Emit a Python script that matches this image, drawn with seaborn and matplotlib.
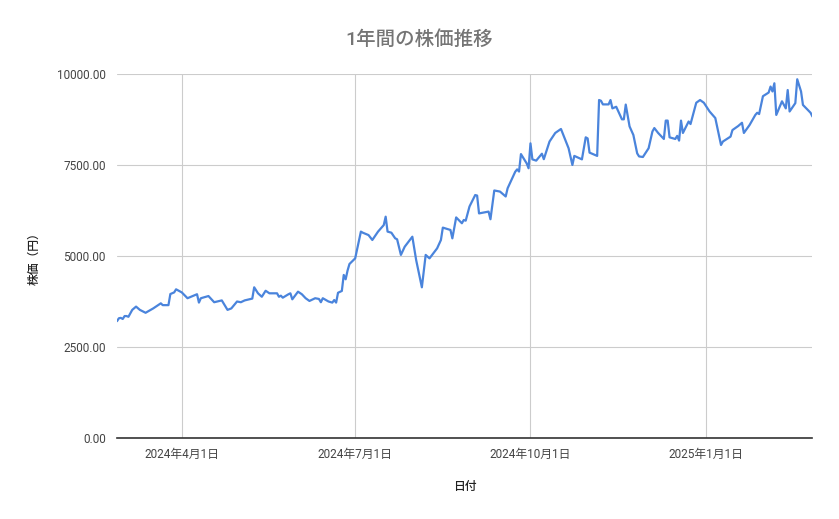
import matplotlib
matplotlib.use("Agg")
import matplotlib.pyplot as plt
import matplotlib.dates as mdates
from matplotlib.ticker import FuncFormatter, FixedLocator
import seaborn as sns
import pandas as pd

dates = [
    "2024-02-27", "2024-02-28", "2024-02-29", "2024-03-01", "2024-03-02", "2024-03-03",
    "2024-03-04", "2024-03-06", "2024-03-08", "2024-03-10", "2024-03-13", "2024-03-17",
    "2024-03-21", "2024-03-22", "2024-03-25", "2024-03-26", "2024-03-28", "2024-03-29",
    "2024-04-01", "2024-04-04", "2024-04-09", "2024-04-10", "2024-04-11", "2024-04-15",
    "2024-04-18", "2024-04-22", "2024-04-25", "2024-04-27", "2024-04-30", "2024-05-02",
    "2024-05-04", "2024-05-08", "2024-05-09", "2024-05-11", "2024-05-13", "2024-05-15",
    "2024-05-17", "2024-05-21", "2024-05-22", "2024-05-23", "2024-05-24", "2024-05-27",
    "2024-05-28", "2024-05-29", "2024-06-01", "2024-06-03", "2024-06-05", "2024-06-07",
    "2024-06-10", "2024-06-12", "2024-06-13", "2024-06-14", "2024-06-17", "2024-06-19",
    "2024-06-20", "2024-06-21", "2024-06-22", "2024-06-24", "2024-06-25", "2024-06-26",
    "2024-06-27", "2024-06-28", "2024-07-01", "2024-07-04", "2024-07-05", "2024-07-08",
    "2024-07-10", "2024-07-13", "2024-07-16", "2024-07-17", "2024-07-18", "2024-07-20",
    "2024-07-22", "2024-07-23", "2024-07-25", "2024-07-27", "2024-07-31", "2024-08-02",
    "2024-08-05", "2024-08-07", "2024-08-09", "2024-08-13", "2024-08-15", "2024-08-16",
    "2024-08-20", "2024-08-21", "2024-08-23", "2024-08-26", "2024-08-27", "2024-08-28",
    "2024-08-30", "2024-09-02", "2024-09-03", "2024-09-04", "2024-09-09", "2024-09-10",
    "2024-09-12", "2024-09-15", "2024-09-18", "2024-09-19", "2024-09-23", "2024-09-24",
    "2024-09-25", "2024-09-26", "2024-09-29", "2024-09-30", "2024-10-01", "2024-10-02",
    "2024-10-04", "2024-10-07", "2024-10-08", "2024-10-11", "2024-10-14", "2024-10-17",
    "2024-10-21", "2024-10-23", "2024-10-24", "2024-10-28", "2024-10-30", "2024-10-31",
    "2024-11-01", "2024-11-05", "2024-11-06", "2024-11-07", "2024-11-08", "2024-11-11",
    "2024-11-12", "2024-11-13", "2024-11-15", "2024-11-18", "2024-11-19", "2024-11-20",
    "2024-11-22", "2024-11-24", "2024-11-26", "2024-11-27", "2024-11-29", "2024-12-02",
    "2024-12-04", "2024-12-05", "2024-12-07", "2024-12-10", "2024-12-11", "2024-12-12",
    "2024-12-13", "2024-12-16", "2024-12-17", "2024-12-18", "2024-12-19", "2024-12-20",
    "2024-12-23", "2024-12-24", "2024-12-27", "2024-12-29", "2024-12-31", "2025-01-03",
    "2025-01-06", "2025-01-09", "2025-01-10", "2025-01-14", "2025-01-15", "2025-01-18",
    "2025-01-20", "2025-01-21", "2025-01-24", "2025-01-27", "2025-01-28", "2025-01-29",
    "2025-01-31", "2025-02-03", "2025-02-04", "2025-02-05", "2025-02-06", "2025-02-07",
    "2025-02-10", "2025-02-12", "2025-02-13", "2025-02-14", "2025-02-17", "2025-02-18",
    "2025-02-20", "2025-02-21", "2025-02-25", "2025-02-26",
]

prices = [
    3210, 3290, 3300, 3270, 3350, 3350,
    3330, 3520, 3610, 3520, 3440, 3560,
    3700, 3650, 3650, 3955, 4000, 4085,
    4000, 3840, 3950, 3720, 3840, 3900,
    3730, 3780, 3520, 3560, 3750, 3730,
    3780, 3830, 4140, 3975, 3880, 4045,
    3975, 3975, 3880, 3910, 3855, 3950,
    3975, 3810, 4020, 3950, 3840, 3765,
    3840, 3820, 3730, 3840, 3750, 3720,
    3790, 3720, 3990, 4040, 4480, 4360,
    4600, 4780, 4935, 5670, 5640, 5575,
    5440, 5670, 5850, 6080, 5670, 5640,
    5485, 5460, 5030, 5255, 5530, 4890,
    4140, 5030, 4935, 5210, 5440, 5780,
    5715, 5485, 6060, 5900, 5990, 5970,
    6360, 6675, 6660, 6170, 6220, 6010,
    6800, 6770, 6635, 6860, 7315, 7380,
    7320, 7800, 7545, 7410, 8095, 7655,
    7620, 7810, 7660, 8145, 8380, 8490,
    7960, 7500, 7750, 7655, 8260, 8230,
    7840, 7750, 9285, 9265, 9165, 9165,
    9285, 9055, 9100, 8755, 8755, 9160,
    8560, 8325, 7820, 7735, 7720, 7960,
    8420, 8515, 8380, 8215, 8720, 8720,
    8260, 8215, 8300, 8170, 8720, 8380,
    8695, 8625, 9210, 9285, 9210, 8970,
    8790, 8050, 8145, 8280, 8460, 8570,
    8660, 8380, 8600, 8875, 8935, 8900,
    9390, 9490, 9655, 9520, 9745, 8875,
    9250, 9055, 9560, 8970, 9200, 9855,
    9520, 9150, 8935, 8830,
]

y_ticks = [0, 2500, 5000, 7500, 10000]
x_ticks = ["2024-04-01", "2024-07-01", "2024-10-01", "2025-01-01"]

title = "1年間の株価推移"
x_label = "日付"
y_label = "株価（円）"

sns.set_theme(style="white")
plt.rcParams["font.family"] = ["Roboto", "Noto Sans CJK JP", "DejaVu Sans"]

df = pd.DataFrame({"date": pd.to_datetime(dates), "price": prices})

fig = plt.figure(figsize=(8.39, 5.19), dpi=100)
ax = fig.add_axes([117 / 839, 1 - 438 / 519, (812 - 117) / 839, (438 - 74) / 519])

sns.lineplot(data=df, x="date", y="price", ax=ax, color="#4a84dc", linewidth=1.6)

ax.set_xlim(df["date"].min(), pd.Timestamp("2025-02-25 18:00"))
ax.set_ylim(0, 10000)

ax.yaxis.set_major_locator(FixedLocator(y_ticks))
ax.yaxis.set_major_formatter(FuncFormatter(lambda v, p: f"{v:.2f}"))
xt = [mdates.date2num(pd.Timestamp(d)) for d in x_ticks]
ax.xaxis.set_major_locator(FixedLocator(xt))
ax.xaxis.set_major_formatter(FuncFormatter(
    lambda v, p: (lambda d: f"{d.year}年{d.month}月{d.day}日")(mdates.num2date(v))))

ax.grid(True, color="#cccccc", linewidth=0.8)
ax.set_axisbelow(True)
for s in ["top", "right", "left"]:
    ax.spines[s].set_visible(False)
ax.spines["bottom"].set_color("#333333")
ax.spines["bottom"].set_linewidth(1.2)

ax.tick_params(axis="both", length=0, labelsize=8.5, labelcolor="#444444")
ax.tick_params(axis="y", pad=8)
ax.tick_params(axis="x", pad=7)

ax.set_xlabel(x_label, fontsize=8.5, color="#222222", labelpad=14, fontweight="medium")
ax.set_ylabel(y_label, fontsize=8.5, color="#222222", labelpad=12, fontweight="medium")
fig.text(0.5, 1 - 40 / 519, title, ha="center", va="center",
         fontsize=14, color="#757575", fontweight="medium")

fig.savefig("out.png", dpi=100, facecolor="white")
